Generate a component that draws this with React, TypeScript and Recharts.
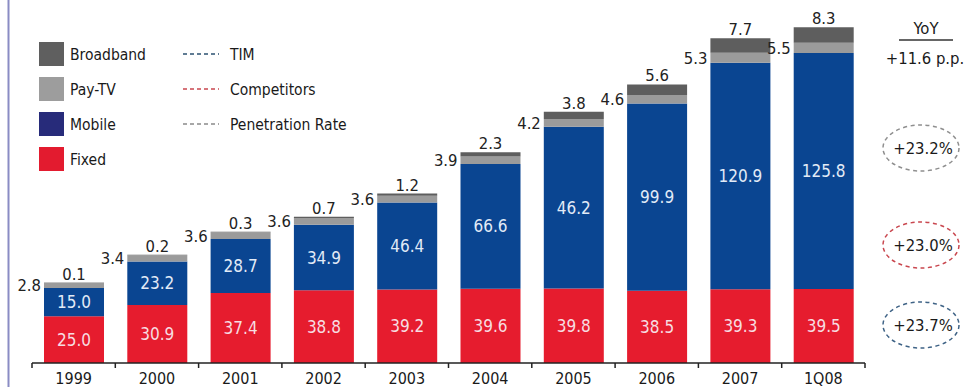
import React from 'react';
import { BarChart, Bar, XAxis, YAxis, LabelList } from 'recharts';

const categories = ['1999', '2000', '2001', '2002', '2003', '2004', '2005', '2006', '2007', '1Q08'];
const fixedValues = [25.0, 30.9, 37.4, 38.8, 39.2, 39.6, 39.8, 38.5, 39.3, 39.5];
// 2005 bar is drawn at ~86 in the picture although its printed label reads 46.2
const mobileValues = [15.0, 23.2, 28.7, 34.9, 46.4, 66.6, 86.2, 99.9, 120.9, 125.8];
const mobileLabels = ['15.0', '23.2', '28.7', '34.9', '46.4', '66.6', '46.2', '99.9', '120.9', '125.8'];
const payTvValues = [2.8, 3.4, 3.6, 3.6, 3.6, 3.9, 4.2, 4.6, 5.3, 5.5];
const broadbandValues = [0.1, 0.2, 0.3, 0.7, 1.2, 2.3, 3.8, 5.6, 7.7, 8.3];

const barLegend = [
  { name: 'Broadband', color: '#5f5f5f' },
  { name: 'Pay-TV', color: '#9d9d9d' },
  { name: 'Mobile', color: '#272b7a' },
  { name: 'Fixed', color: '#e31b2f' },
];
const lineLegend = [
  { name: 'TIM', color: '#2c5172' },
  { name: 'Competitors', color: '#c9474f' },
  { name: 'Penetration Rate', color: '#8a8a8a' },
];
const yoyTitle = 'YoY';
const yoyItems = [
  { text: '+11.6 p.p.', color: null },
  { text: '+23.2%', color: '#8f8f8f' },
  { text: '+23.0%', color: '#c9474f' },
  { text: '+23.7%', color: '#3f6386' },
];

const data = categories.map((c, i) => ({
  year: c,
  fixed: fixedValues[i],
  mobile: mobileValues[i],
  mobileLabel: mobileLabels[i],
  payTv: payTvValues[i],
  broadband: broadbandValues[i],
}));

const W = 965;
const H = 387;
const M = { top: 3, right: 100, left: 32, bottom: 0 };
const X_AXIS_H = 24;
const TICK_SIZE = 5;
const BAND = (W - M.left - M.right) / categories.length;
const FONT = "'DejaVu Sans Condensed', 'Liberation Sans', Arial, sans-serif";
const FS = 16.5;
const FS_IN = 17;
const fontStyle = { fontFamily: FONT, fontStretch: 'condensed' as const };

const YearTick = (props: any) => {
  const { x, y, payload, index } = props;
  const axisY = y - TICK_SIZE;
  const half = BAND / 2;
  return (
    <g>
      <line x1={x - half} x2={x - half} y1={axisY} y2={axisY + TICK_SIZE} stroke="#222" strokeWidth={1.5} />
      {index === categories.length - 1 && (
        <line x1={x + half} x2={x + half} y1={axisY} y2={axisY + TICK_SIZE} stroke="#222" strokeWidth={1.5} />
      )}
      <text x={x} y={y + 16} textAnchor="middle" fontSize={16} fill="#1a1a1a" style={fontStyle}>
        {payload.value}
      </text>
    </g>
  );
};

const PayTvLabel = (props: any) => {
  const { x, y, height, value } = props;
  return (
    <text x={x - 3} y={y + height / 2 + 6} textAnchor="end" fontSize={FS} fill="#222" style={fontStyle}>
      {Number(value).toFixed(1)}
    </text>
  );
};

export default function App() {
  return (
    <div style={{ position: 'absolute', left: 0, top: 0, width: W, height: H, background: '#fff', ...fontStyle }}>
      <BarChart width={W} height={H} data={data} margin={M} barSize={60} style={fontStyle}>
        <XAxis
          dataKey="year"
          height={X_AXIS_H}
          tickSize={TICK_SIZE}
          tickMargin={0}
          interval={0}
          axisLine={{ stroke: '#222', strokeWidth: 1.5 }}
          tickLine={false}
          tick={<YearTick />}
        />
        <YAxis hide domain={[0, 192]} />
        <Bar dataKey="fixed" stackId="s" fill="#e61c2e" isAnimationActive={false}>
          <LabelList dataKey="fixed" position="center" fill="#f7dde1" fontSize={FS_IN} style={fontStyle} formatter={(v: any) => Number(v).toFixed(1)} />
        </Bar>
        <Bar dataKey="mobile" stackId="s" fill="#0a4591" isAnimationActive={false}>
          <LabelList dataKey="mobileLabel" position="center" fill="#e2ebf7" fontSize={FS_IN} style={fontStyle} />
        </Bar>
        <Bar dataKey="payTv" stackId="s" fill="#9b9b9b" isAnimationActive={false}>
          <LabelList dataKey="payTv" content={<PayTvLabel />} />
        </Bar>
        <Bar dataKey="broadband" stackId="s" fill="#5e5e5e" isAnimationActive={false}>
          <LabelList dataKey="broadband" position="top" offset={3} fill="#222" fontSize={FS} style={fontStyle} formatter={(v: any) => Number(v).toFixed(1)} />
        </Bar>
      </BarChart>
      <svg width={W} height={H} style={{ position: 'absolute', left: 0, top: 0, pointerEvents: 'none', ...fontStyle }}>
        <line x1={8.5} x2={8.5} y1={0} y2={H} stroke="#8a8cc4" strokeWidth={2} />
        {barLegend.map((b, i) => (
          <g key={b.name}>
            <rect x={39} y={42 + i * 35} width={25} height={24} fill={b.color} />
            <text x={70} y={60 + i * 35} fontSize={15.5} fill="#1a1a1a">{b.name}</text>
          </g>
        ))}
        {lineLegend.map((l, i) => (
          <g key={l.name}>
            <line x1={183} x2={219} y1={54 + i * 35} y2={54 + i * 35} stroke={l.color} strokeWidth={1.5} strokeDasharray="4 3" />
            <text x={230} y={60 + i * 35} fontSize={15.5} fill="#1a1a1a">{l.name}</text>
          </g>
        ))}
        <text x={926} y={34} textAnchor="middle" fontSize={FS} fill="#1a1a1a">{yoyTitle}</text>
        <line x1={899} x2={953} y1={40} y2={40} stroke="#333" strokeWidth={1.5} />
        <text x={925} y={64} textAnchor="middle" fontSize={FS} fill="#1a1a1a">{yoyItems[0].text}</text>
        {[148, 245, 325].map((cy, i) => (
          <g key={cy}>
            <ellipse cx={921} cy={cy} rx={38} ry={23} fill="none" stroke={yoyItems[i + 1].color as string} strokeWidth={1.5} strokeDasharray="4 3.5" />
            <text x={923} y={cy + 6} textAnchor="middle" fontSize={FS} fill="#1a1a1a">{yoyItems[i + 1].text}</text>
          </g>
        ))}
      </svg>
    </div>
  );
}
